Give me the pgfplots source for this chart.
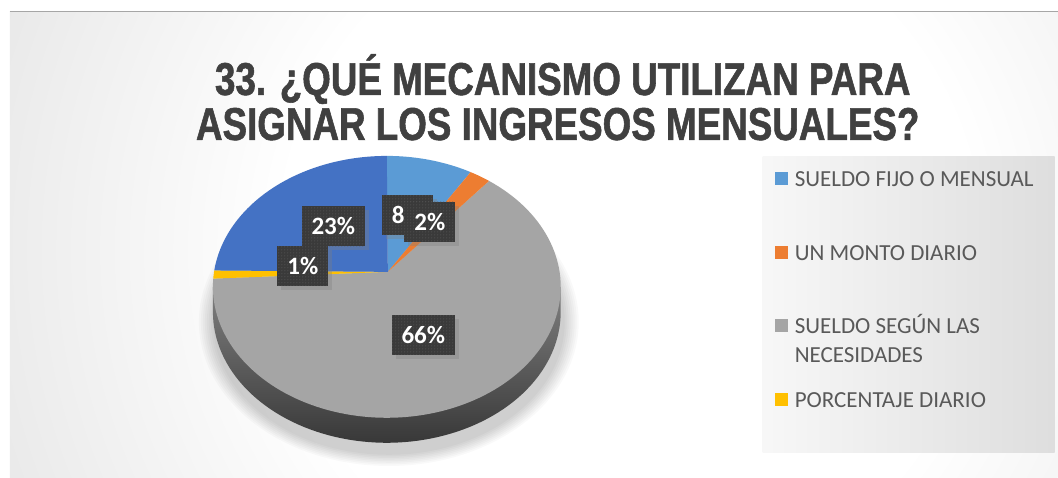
\documentclass[border=0pt]{standalone}
\usepackage{pgfplots}
\pgfplotsset{compat=1.18}
\usepackage{fontspec}
\setmainfont{Carlito}
\newfontfamily\titlefont[FakeStretch=0.80,BoldFeatures={FakeBold=1.2}]{Liberation Sans}
\usetikzlibrary{patterns,shadows}
\definecolor{cA}{HTML}{5B9BD5}
\definecolor{cB}{HTML}{ED7D31}
\definecolor{cC}{HTML}{A5A5A5}
\definecolor{cD}{HTML}{FFC000}
\definecolor{cE}{HTML}{4472C4}
\definecolor{bggray}{HTML}{C2C2C2}
\definecolor{txt}{HTML}{595959}
\definecolor{ttl}{HTML}{404040}
\definecolor{lblbg}{HTML}{3A3A3A}
\definecolor{lbldot}{HTML}{5E5E5E}
\pgfdeclareradialshading{bgshade}{\pgfpoint{0bp}{0bp}}{color(0bp)=(white); color(7bp)=(white); color(25bp)=(bggray); color(50bp)=(bggray)}
% data (percent)
\def\vA{8}\def\vB{2}\def\vC{66}\def\vD{1}\def\vE{23}
\tikzset{
  lbl/.style={fill=lblbg,text=white,font=\bfseries\fontsize{25}{30}\selectfont,
    inner xsep=10pt,minimum height=40pt,
    drop shadow={opacity=0.35,shadow xshift=4pt,shadow yshift=-4pt},
    postaction={pattern=dots,pattern color=lbldot}},
  sq/.style={minimum size=13pt,inner sep=0pt},
  shd/.style={black,opacity=0.022}}
\begin{document}
\begin{tikzpicture}
\begin{axis}[width=1058pt,height=478pt,scale only axis,
  xmin=0,xmax=1058,ymin=0,ymax=478,hide axis,clip=false]
% background
\fill[white] (axis cs:0,0) rectangle (axis cs:1058,478);
\begin{scope}
\clip (axis cs:10,0) rectangle (axis cs:1058,466);
\shade[shading=bgshade] (axis cs:630,228) circle [radius=1240pt];
\end{scope}
\draw[color=gray!70,line width=1pt] (axis cs:10,466) -- (axis cs:1058,466);
\shade[left color=white!97!black,right color=white!87!black] (axis cs:763,25) rectangle (axis cs:1055,321);
% angles
\pgfmathsetmacro{\aA}{90-3.6*\vA}
\pgfmathsetmacro{\aB}{\aA-3.6*\vB}
\pgfmathsetmacro{\aC}{\aB-3.6*\vC}
\pgfmathsetmacro{\aD}{\aC-3.6*\vD}
\pgfmathsetmacro{\aE}{\aD-3.6*\vE}
% soft shadow
\fill[shd] (axis cs:389,156) ellipse [x radius=176pt,y radius=133pt];
\fill[shd] (axis cs:389,156) ellipse [x radius=178pt,y radius=134.6pt];
\fill[shd] (axis cs:389,156) ellipse [x radius=180pt,y radius=136.2pt];
\fill[shd] (axis cs:389,156) ellipse [x radius=182pt,y radius=137.8pt];
\fill[shd] (axis cs:389,156) ellipse [x radius=184pt,y radius=139.4pt];
\fill[shd] (axis cs:389,156) ellipse [x radius=186pt,y radius=141pt];
\fill[shd] (axis cs:389,156) ellipse [x radius=188pt,y radius=142.6pt];
\fill[shd] (axis cs:389,156) ellipse [x radius=190pt,y radius=144.2pt];
% side
\addplot[draw=none,top color=black!50,bottom color=black!78,domain=180:360,samples=80,variable=\t]
  ({387+174*cos(\t)},{166+131*sin(\t)}) -- (axis cs:561,191) -- (axis cs:213,191) -- cycle;
% top slices
\addplot[fill=cC,draw=none,domain=\aC:\aB,samples=120,variable=\t]
  ({387+174*cos(\t)},{191+131*sin(\t)}) -- (axis cs:388,206) -- cycle;
\addplot[fill=cA,draw=none,domain=\aA:90,samples=30,variable=\t]
  ({387+174*cos(\t)},{191+131*sin(\t)}) -- (axis cs:388,206) -- cycle;
\addplot[fill=cB,draw=none,domain=\aB:\aA,samples=20,variable=\t]
  ({387+174*cos(\t)},{191+131*sin(\t)}) -- (axis cs:388,206) -- cycle;
\addplot[fill=cD,draw=none,domain=\aD+360:\aC+360,samples=20,variable=\t]
  ({387+174*cos(\t)},{191+131*sin(\t)}) -- (axis cs:388,206) -- cycle;
\addplot[fill=cE,draw=none,domain=90:\aD+360,samples=60,variable=\t]
  ({387+174*cos(\t)},{191+131*sin(\t)}) -- (axis cs:388,206) -- cycle;
% data labels
\node[lbl] at (axis cs:407.5,263) {8\%};
\node[lbl] at (axis cs:430,256) {2\%};
\node[lbl] at (axis cs:333.5,251.5) {23\%};
\node[lbl] at (axis cs:303,212) {1\%};
\node[lbl] at (axis cs:423.5,143) {66\%};
% title
\node[anchor=base,text=ttl,font=\titlefont\bfseries\fontsize{46}{46}\selectfont] at (axis cs:563,383) {33. ¿QUÉ MECANISMO UTILIZAN PARA};
\node[anchor=base,text=ttl,font=\titlefont\bfseries\fontsize{46}{46}\selectfont] at (axis cs:558,338) {ASIGNAR LOS INGRESOS MENSUALES?};
% legend
\node[sq,fill=cA] at (axis cs:781.5,299) {};
\node[sq,fill=cB] at (axis cs:781.5,225) {};
\node[sq,fill=cC] at (axis cs:781.5,152) {};
\node[sq,fill=cD] at (axis cs:781.5,78) {};
\begin{scope}[every node/.style={anchor=base west,text=txt,inner sep=0pt,font=\fontsize{23}{28}\selectfont}]
\node at (axis cs:795,291.5) {SUELDO FIJO O MENSUAL};
\node at (axis cs:795,217.5) {UN MONTO DIARIO};
\node at (axis cs:795,144.5) {SUELDO SEGÚN LAS};
\node at (axis cs:795,115.5) {NECESIDADES};
\node at (axis cs:795,70.5) {PORCENTAJE DIARIO};
\end{scope}
\end{axis}
\end{tikzpicture}
\end{document}
